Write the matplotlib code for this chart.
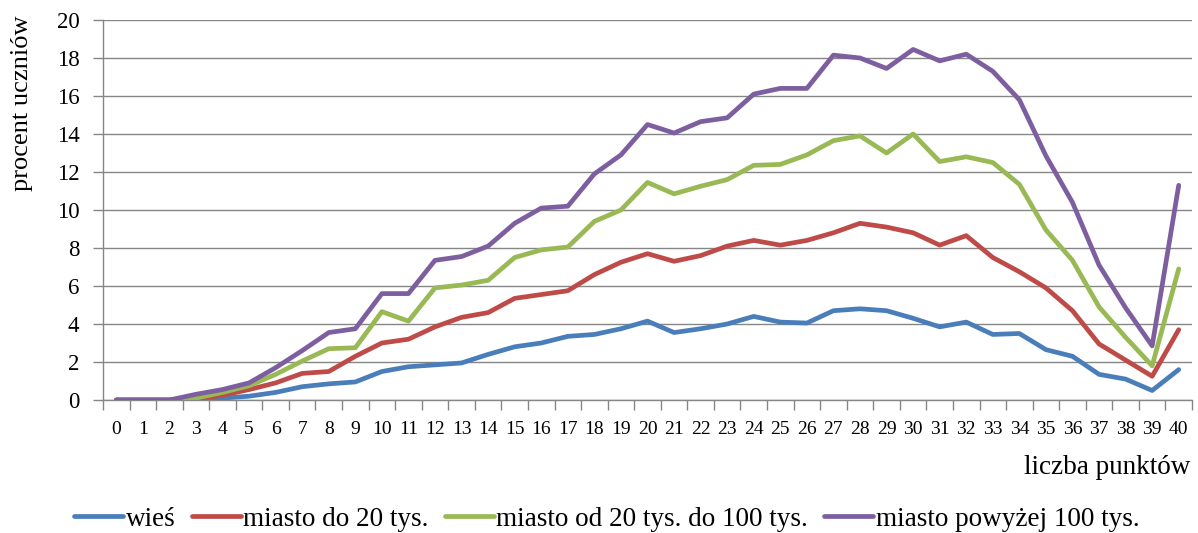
import matplotlib
matplotlib.use("Agg")
import matplotlib.pyplot as plt
from matplotlib.ticker import FixedLocator, MultipleLocator

plt.rcParams['font.family'] = ['Liberation Serif', 'DejaVu Serif']

# Points scored (0..40)
points = list(range(41))

wies = [0, 0, 0, 0, 0.1, 0.2, 0.4, 0.7, 0.85, 0.95, 1.5, 1.75, 1.85, 1.95, 2.4,
        2.8, 3.0, 3.35, 3.45, 3.75, 4.15, 3.55, 3.75, 4.0, 4.4, 4.1, 4.05, 4.7,
        4.8, 4.7, 4.3, 3.85, 4.1, 3.45, 3.5, 2.65, 2.3, 1.35, 1.1, 0.5, 1.6]
miasto_do_20 = [0, 0, 0, 0.05, 0.25, 0.55, 0.9, 1.4, 1.5, 2.3, 3.0, 3.2, 3.85,
                4.35, 4.6, 5.35, 5.55, 5.75, 6.6, 7.25, 7.7, 7.3, 7.6, 8.1, 8.4,
                8.15, 8.4, 8.8, 9.3, 9.1, 8.8, 8.15, 8.65, 7.5, 6.75, 5.9, 4.7,
                2.95, 2.1, 1.25, 3.7]
miasto_20_100 = [0, 0, 0, 0.1, 0.4, 0.75, 1.35, 2.05, 2.7, 2.75, 4.65, 4.15,
                 5.9, 6.05, 6.3, 7.5, 7.9, 8.05, 9.4, 10.0, 11.45, 10.85, 11.25,
                 11.6, 12.35, 12.4, 12.9, 13.65, 13.9, 13.0, 14.0, 12.55, 12.8,
                 12.5, 11.35, 8.95, 7.35, 4.9, 3.3, 1.8, 6.9]
miasto_pow_100 = [0, 0, 0, 0.3, 0.55, 0.9, 1.7, 2.6, 3.55, 3.75, 5.6, 5.6, 7.35,
                  7.55, 8.1, 9.3, 10.1, 10.2, 11.9, 12.9, 14.5, 14.05, 14.65,
                  14.85, 16.1, 16.4, 16.4, 18.15, 18.0, 17.45, 18.45, 17.85,
                  18.2, 17.3, 15.8, 12.85, 10.4, 7.1, 4.85, 2.85, 11.3]

series = [
    ("wieś", wies, "#4A7EBB"),
    ("miasto do 20 tys.", miasto_do_20, "#BE4B48"),
    ("miasto od 20 tys. do 100 tys.", miasto_20_100, "#98B954"),
    ("miasto powyżej 100 tys.", miasto_pow_100, "#7D5FA0"),
]

W, H = 1198, 533
fig = plt.figure(figsize=(W / 100, H / 100), dpi=100)
ax = fig.add_axes([103 / W, (H - 400) / H, (1192 - 103) / W, 380 / H])

for name, vals, col in series:
    ax.plot(points, vals, color=col, lw=3.4, label=name,
            solid_joinstyle='round', solid_capstyle='round', zorder=3)

grid_col = "#868686"
ax.set_xlim(-0.5, 40.5)
ax.set_ylim(0, 20)
ax.yaxis.set_major_locator(MultipleLocator(2))
ax.yaxis.grid(True, color=grid_col, lw=1.0, zorder=0)
ax.set_axisbelow(True)

ax.set_xticks(points)
ax.set_xticklabels([str(p) for p in points])
ax.xaxis.set_minor_locator(FixedLocator([p - 0.5 for p in points] + [40.5]))
ax.tick_params(axis='x', which='major', length=0, pad=15, labelsize=14)
ax.tick_params(axis='x', which='minor', length=7, width=1, color=grid_col,
               direction='out')
ax.tick_params(axis='y', length=7, width=1, color=grid_col, direction='out',
               labelsize=16.5, pad=10)

for s in ('top', 'right'):
    ax.spines[s].set_visible(False)
for s in ('left', 'bottom'):
    ax.spines[s].set_color(grid_col)
    ax.spines[s].set_linewidth(1.0)

ax.set_ylabel("procent uczniów", fontsize=19)
ax.yaxis.set_label_coords(-0.064, 0.78)

fig.text(1190 / W, (H - 467) / H, "liczba punktów", fontsize=19.5,
         ha='right', va='center')

fig.legend(loc='center', bbox_to_anchor=(607 / W, (H - 519) / H), ncol=4,
           frameon=False, fontsize=19.5, handlelength=1.8, handletextpad=0.1,
           columnspacing=0.6, borderaxespad=0)

fig.savefig("out.png", dpi=100)
